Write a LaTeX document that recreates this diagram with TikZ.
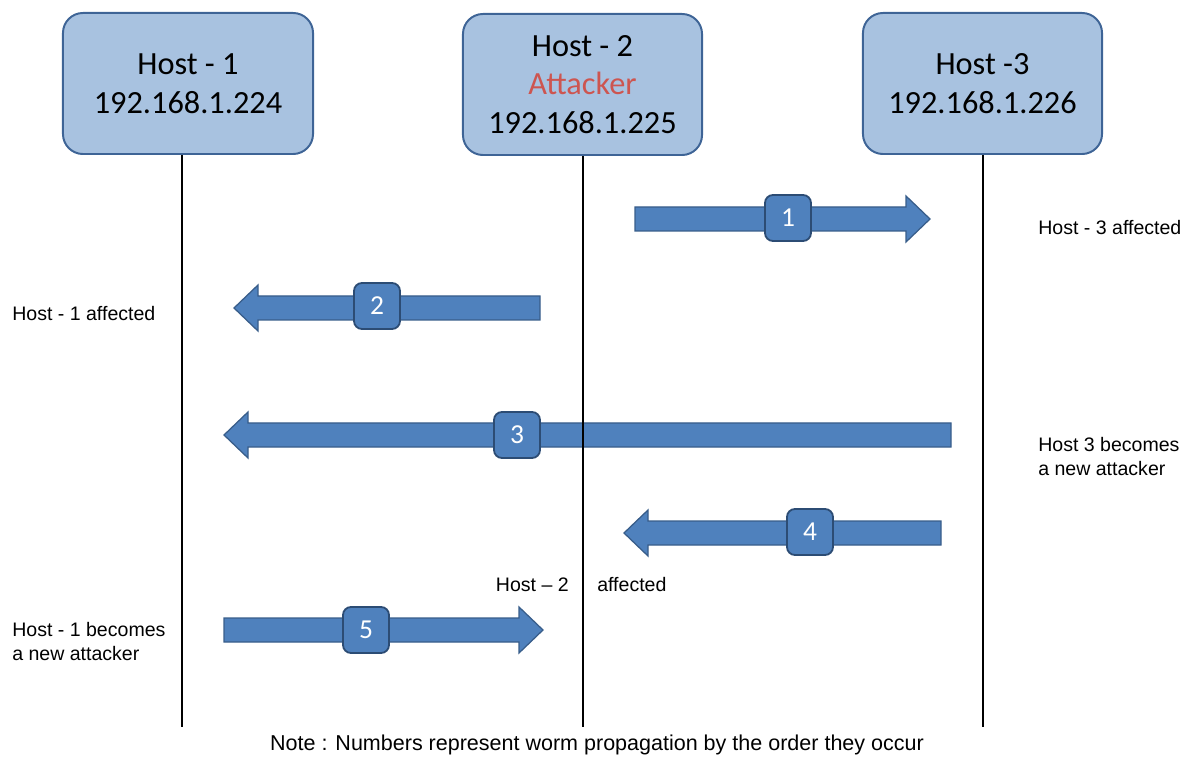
\documentclass[tikz,border=0pt]{standalone}
\usepackage{fontspec}
\setmainfont{Carlito}
\newfontfamily\labelfont{Liberation Sans}
\usetikzlibrary{calc}
\definecolor{hostfill}{RGB}{168,194,224}
\definecolor{hostedge}{RGB}{62,100,150}
\definecolor{wormblue}{RGB}{79,129,189}
\definecolor{wormedge}{RGB}{56,93,138}
\definecolor{numedge}{RGB}{44,76,116}
\definecolor{attackred}{RGB}{205,85,80}
\tikzset{
  hostbox/.style={draw=hostedge, line width=1.4pt, fill=hostfill, rounded corners=0.5cm,
    minimum width=5.975cm, minimum height=3.525cm, align=center, font=\fontsize{23}{27.6}\selectfont},
  numbox/.style={draw=numedge, line width=1.3pt, fill=wormblue, rounded corners=0.2cm,
    minimum size=1.15cm, inner sep=0pt, text=white, font=\fontsize{19.5}{19.5}\selectfont},
  wormarrow/.style={fill=wormblue, draw=wormedge, line width=0.9pt},
  lifeline/.style={line width=1.8pt},
  sidelabel/.style={inner sep=0pt, align=left, font=\labelfont\fontsize{13.9}{16.4}\selectfont},
}
\newcommand{\wormpath}[2]{%
  \coordinate (hb) at ($(#2)!0.6cm!(#1)$);
  \filldraw[wormarrow] ($(#1)+(0,12)$) -- ($(hb)+(0,12)$) -- ($(hb)+(0,23)$) -- (#2)
    -- ($(hb)+(0,-23)$) -- ($(hb)+(0,-12)$) -- ($(#1)+(0,-12)$) -- cycle;}

\begin{document}
\begin{tikzpicture}[x=0.025cm, y=-0.025cm]
\useasboundingbox (0,0) rectangle (1190,760);

\node[hostbox, minimum width=6.25cm] (host1) at (188,83.5) {Host - 1\\192.168.1.224};
\node[hostbox] (host2) at (582.5,84.5) {Host - 2\\\textcolor{attackred}{Attacker}\\192.168.1.225};
\node[hostbox] (host3) at (982.5,83.5) {Host -3\\192.168.1.226};

\coordinate (end1) at (182,727);
\coordinate (end2) at (583,727);
\coordinate (end3) at (983,727);

\coordinate (tail1) at (635,219);
\coordinate (tip1) at (930,219);
\coordinate (tail2) at (540,308);
\coordinate (tip2) at (234,308);
\coordinate (tail3) at (951,435);
\coordinate (tip3) at (224,435);
\coordinate (tail4) at (941,533);
\coordinate (tip4) at (624,533);
\coordinate (tail5) at (224,630);
\coordinate (tip5) at (543,630);

\wormpath{tail1}{tip1}
\wormpath{tail2}{tip2}
\wormpath{tail3}{tip3}
\wormpath{tail4}{tip4}
\wormpath{tail5}{tip5}

\draw[lifeline] (host1.south -| end1) -- (end1);
\draw[lifeline] (host2.south -| end2) -- (end2);
\draw[lifeline] (host3.south -| end3) -- (end3);

\node[numbox] (num1) at (788,218) {1};
\node[numbox] (num2) at (377,306) {2};
\node[numbox] (num3) at (517,435) {3};
\node[numbox] (num4) at (810,532) {4};
\node[numbox] (num5) at (366,630) {5};

\node[sidelabel, anchor=west] (aff3) at (1038,228) {Host - 3 affected};
\node[sidelabel, anchor=west] (aff1) at (12,314) {Host - 1 affected};
\node[sidelabel, anchor=west] (new3) at (1038,456.5) {Host 3 becomes\\a new attacker};
\node[sidelabel, anchor=east] (aff2a) at (569,585) {Host – 2};
\node[sidelabel, anchor=west] (aff2b) at (597,585) {affected};
\node[sidelabel, anchor=west] (new1) at (12,641.5) {Host - 1 becomes\\a new attacker};
\node[inner sep=0pt, font=\labelfont\fontsize{15.3}{18}\selectfont] (note) at (597,745)
  {Note : Numbers represent worm propagation by the order they occur};
\end{tikzpicture}
\end{document}
